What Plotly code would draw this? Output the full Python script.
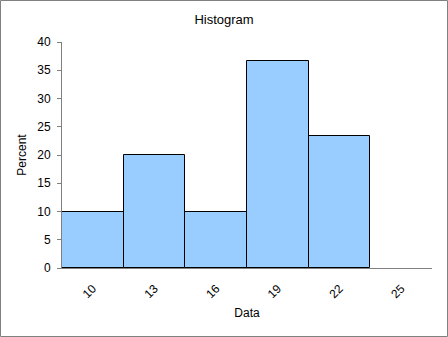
import plotly.graph_objects as go

categories = ["10", "13", "16", "19", "22", "25"]
percent = [10, 20, 10, 36.67, 23.33, None]

W, H = 448, 337
L, R, T, B = 62, 16, 42, 69
pw, ph = W - L - R, H - T - B

fig = go.Figure(go.Bar(
    x=categories, y=percent,
    marker=dict(color="#99CCFF", line=dict(color="black", width=1)),
))

fig.update_layout(
    width=W, height=H,
    margin=dict(l=L, r=R, t=T, b=B, pad=0),
    paper_bgcolor="white", plot_bgcolor="white",
    bargap=0,
    showlegend=False,
    font=dict(family="Liberation Sans, Arial, sans-serif", size=12, color="black"),
    title=dict(text="Histogram", x=0.5, xanchor="center", y=1 - 19 / H, yanchor="middle",
               font=dict(size=13)),
    xaxis=dict(
        type="category", tickangle=-45, showline=True, linecolor="#808080", linewidth=1,
        ticks="", showgrid=False, zeroline=False, range=[-0.5, 5.5],
        ticklabelstandoff=8, tickfont=dict(size=12), layer="above traces",
        title=dict(text="Data", standoff=8, font=dict(size=12)),
    ),
    yaxis=dict(
        range=[0, 40], dtick=5, showline=True, linecolor="#808080", linewidth=1,
        ticks="outside", ticklen=4, tickcolor="#808080", showgrid=False, zeroline=False,
        tickfont=dict(size=12), ticklabelstandoff=4,
        title=dict(text="Percent", standoff=8, font=dict(size=12)),
    ),
    shapes=[dict(
        type="rect", xref="paper", yref="paper",
        x0=(0.5 - L) / pw, x1=(W - 0.5 - L) / pw,
        y0=(T + ph - (H - 0.5)) / ph,
        y1=(T + ph - 0.5) / ph,
        line=dict(color="#808080", width=1), fillcolor="rgba(0,0,0,0)", layer="above",
    )],
)

fig.write_html("out.html")
